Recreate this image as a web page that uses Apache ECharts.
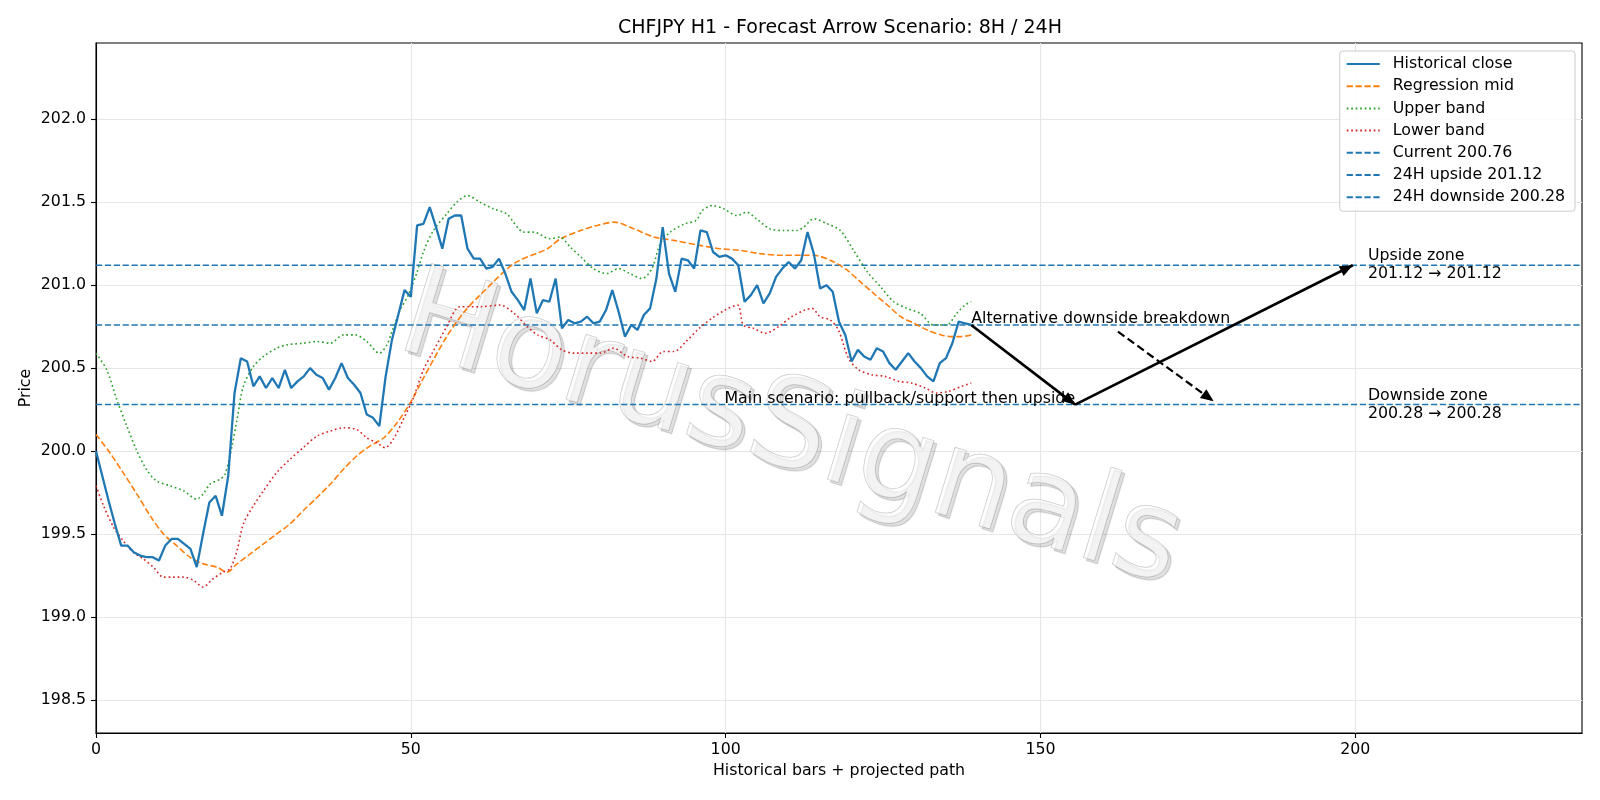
<!DOCTYPE html>
<html>
<head>
<meta charset="utf-8">
<script src="https://cdn.jsdelivr.net/npm/echarts@6/dist/echarts.min.js"></script>
<style>html,body{margin:0;padding:0;background:#fff}#c{width:1600px;height:800px}</style>
</head>
<body>
<div id="c"></div>
<script>
// ---- data ----
const X_MIN = 0, X_MAX = 236;
const Y_MIN = 198.3, Y_MAX = 202.46;
const xTicks = [0, 50, 100, 150, 200];
const yTicks = [198.5, 199.0, 199.5, 200.0, 200.5, 201.0, 201.5, 202.0];

const close = [
  200.00,199.85,199.70,199.56,199.43,199.43,199.39,199.37,199.36,199.36,
  199.34,199.43,199.47,199.47,199.44,199.41,199.30,199.50,199.69,199.73,
  199.61,199.85,200.35,200.56,200.54,200.39,200.45,200.38,200.44,200.38,
  200.49,200.38,200.42,200.45,200.50,200.46,200.44,200.37,200.44,200.53,
  200.44,200.40,200.35,200.22,200.20,200.15,200.45,200.67,200.82,200.97,
  200.93,201.36,201.37,201.47,201.35,201.22,201.40,201.42,201.42,201.22,
  201.16,201.16,201.10,201.11,201.16,201.07,200.96,200.91,200.85,201.04,
  200.83,200.91,200.90,201.04,200.74,200.79,200.77,200.78,200.81,200.77,
  200.78,200.85,200.97,200.84,200.69,200.76,200.73,200.82,200.86,201.04,
  201.35,201.07,200.96,201.16,201.15,201.10,201.33,201.32,201.20,201.17,
  201.18,201.16,201.12,200.90,200.94,201.00,200.89,200.95,201.05,201.10,
  201.14,201.10,201.15,201.32,201.19,200.98,201.00,200.96,200.78,200.70,
  200.54,200.61,200.57,200.55,200.62,200.60,200.53,200.49,200.54,200.59,
  200.54,200.50,200.45,200.42,200.53,200.56,200.65,200.78,200.77,200.76
];

const regMid = [
  [0,200.10],[2.2,199.99],[4.3,199.87],[6.5,199.74],[8.6,199.61],[10.7,199.50],[12.8,199.43],
  [14.9,199.36],[17,199.32],[19.2,199.30],[20.8,199.27],[22.4,199.32],[24.5,199.38],[26.6,199.44],
  [28.7,199.50],[30.8,199.56],[32.9,199.64],[35.1,199.72],[37.2,199.80],[39.3,199.89],[41.4,199.97],
  [43.5,200.03],[45.7,200.08],[47.8,200.17],[49.9,200.29],[52,200.44],[55.7,200.69],[58.5,200.84],
  [61,200.94],[66.4,201.13],[71.7,201.22],[73.8,201.28],[77,201.33],[79.6,201.36],[82.3,201.38],
  [85.4,201.34],[88.6,201.29],[91.8,201.27],[95.9,201.24],[99.1,201.22],[102.3,201.21],[105.5,201.19],
  [108.7,201.18],[111.9,201.18],[114,201.18],[117.2,201.14],[119.3,201.09],[121.4,201.02],[123.5,200.95],
  [125.7,200.88],[127.8,200.81],[129.9,200.77],[132,200.73],[134.2,200.70],[135.8,200.69],[137.4,200.69],
  [139,200.70]
];

const upperBand = [
  [0,200.59],[1.7,200.49],[3.3,200.31],[4.9,200.15],[6.5,200.00],[8,199.89],[9.6,199.82],[11.8,199.79],
  [13.9,199.76],[16,199.71],[17,199.74],[18.1,199.80],[19.7,199.83],[20.5,199.86],[21.6,200.03],
  [22.4,200.19],[23.4,200.39],[25,200.51],[26.6,200.57],[28.7,200.62],[30.3,200.64],[32.9,200.65],
  [35.1,200.66],[37.2,200.65],[39.3,200.70],[41.2,200.70],[43,200.66],[45,200.59],[46.2,200.64],
  [47,200.72],[48.3,200.85],[49.6,200.94],[51,201.08],[52,201.20],[53.6,201.33],[55.7,201.43],
  [57.3,201.50],[59,201.54],[61,201.50],[63.1,201.46],[65.2,201.43],[68,201.32],[69.5,201.32],
  [72.1,201.28],[73.7,201.29],[75.3,201.23],[77,201.17],[79,201.10],[81.1,201.07],[83,201.10],
  [84.8,201.07],[86.7,201.04],[88.3,201.10],[89.6,201.25],[91.2,201.32],[93.5,201.37],[95.3,201.39],
  [96.3,201.45],[97.9,201.48],[99.7,201.46],[101.8,201.42],[103.3,201.44],[104.9,201.40],[107,201.34],
  [109.2,201.33],[111.3,201.33],[112.4,201.35],[114,201.40],[116.1,201.37],[118.2,201.33],[120.3,201.21],
  [122.5,201.08],[124.6,200.99],[126.7,200.90],[128.8,200.86],[130.9,200.83],[133,200.76],[135.1,200.76],
  [136.7,200.83],[138,200.88],[139,200.90]
];

const lowerBand = [
  [0,199.79],[1.2,199.67],[2.8,199.54],[4.3,199.46],[5.9,199.39],[7.5,199.35],[9.1,199.30],[10.7,199.24],
  [12.3,199.24],[13.9,199.24],[15.5,199.22],[17,199.18],[18.6,199.23],[20.2,199.27],[21.3,199.29],
  [22.4,199.40],[23.4,199.56],[25,199.67],[26.6,199.76],[28.7,199.87],[30.8,199.95],[32.9,200.02],
  [35.1,200.09],[37.2,200.12],[39.3,200.14],[41.4,200.13],[43,200.08],[44.6,200.05],[45.9,200.02],
  [47.2,200.07],[48.8,200.19],[50.4,200.32],[52,200.49],[53.4,200.59],[55.7,200.75],[57.8,200.87],
  [61,200.87],[64.2,200.88],[66.4,200.83],[68.5,200.75],[70.1,200.70],[72.1,200.67],[74,200.61],
  [75.9,200.59],[78,200.59],[80.1,200.59],[82.2,200.62],[84.4,200.57],[86.5,200.56],[88.3,200.54],
  [90.1,200.60],[91.8,200.60],[93.7,200.66],[95.8,200.74],[97.8,200.80],[99.9,200.85],[101.9,200.88],
  [102.8,200.76],[104.4,200.74],[106.3,200.71],[108.4,200.75],[110.5,200.81],[112.6,200.85],[113.7,200.86],
  [115,200.81],[116.6,200.79],[117.9,200.73],[119.5,200.56],[121.1,200.49],[123.2,200.46],[125.3,200.45],
  [127.5,200.42],[129.5,200.41],[131.7,200.38],[133.5,200.35],[135.4,200.36],[137.5,200.39],[139,200.41]
];

const currentLevel = 200.76;
const upsideLevel = 201.12;
const downsideLevel = 200.28;

// projected arrows: [from, to]
const mainPath1 = [[139, 200.76], [155.5, 200.28]];
const mainPath2 = [[155.5, 200.28], [199.6, 201.12]];
const altPath = [[162.3, 200.72], [177.5, 200.30]];

const annotations = [
  { pos: [139, 200.76], text: 'Alternative downside breakdown', align: 'left', va: 'bottom', dy: 3 },
  { pos: [155.5, 200.28], text: 'Main scenario: pullback/support then upside', align: 'right', va: 'bottom', dy: 3 },
  { pos: [202, 201.12], text: 'Upside zone\n201.12 → 201.12', align: 'left', va: 'middle', dy: 0 },
  { pos: [202, 200.28], text: 'Downside zone\n200.28 → 200.28', align: 'left', va: 'middle', dy: 0 }
];

const titleText = 'CHFJPY H1 - Forecast Arrow Scenario: 8H / 24H';
const xName = 'Historical bars + projected path';
const yName = 'Price';

// ---- chart ----
const FONT = '"DejaVu Sans", sans-serif';
const FS = 15.8;
const C_BLUE = '#1f77b4', C_ORANGE = '#ff7f0e', C_GREEN = '#2ca02c', C_RED = '#d62728';
const DASH = [6.2, 2.7];
const DOT = [1.7, 2.8];
const arrowHead = 'path://M5,12L10,24L0,24Z M5,0L5,0.01';

const closeData = close.map((v, i) => [i, v]);
const hline = v => [[X_MIN, v], [X_MAX, v]];

const chart = echarts.init(document.getElementById('c'), null, { renderer: 'canvas' });

const option = {
  animation: false,
  backgroundColor: '#fff',
  textStyle: { fontFamily: FONT },
  title: {
    text: titleText,
    left: 835,
    textAlign: 'center',
    top: 14,
    textStyle: { fontFamily: FONT, fontSize: 19, fontWeight: 'normal', color: '#000' }
  },
  grid: {
    left: 96, right: 18, top: 43, bottom: 67,
    show: true, borderColor: '#000', borderWidth: 1.1, backgroundColor: 'transparent'
  },
  legend: {
    orient: 'vertical',
    right: 25,
    top: 51,
    padding: [5, 10, 6, 6],
    itemWidth: 33,
    itemHeight: 14,
    itemGap: 6.2,
    backgroundColor: 'rgba(255,255,255,0.85)',
    borderColor: '#cccccc',
    borderWidth: 1,
    borderRadius: 3,
    data: ['Historical close', 'Regression mid', 'Upper band', 'Lower band',
           'Current 200.76', '24H upside 201.12', '24H downside 200.28'],
    itemStyle: { color: 'rgba(0,0,0,0)', borderColor: 'rgba(0,0,0,0)', borderWidth: 0, opacity: 0 },
    textStyle: { fontFamily: FONT, fontSize: FS, lineHeight: 16, color: '#000', padding: [0, 0, 0, 8] }
  },
  xAxis: {
    type: 'value',
    min: X_MIN, max: X_MAX,
    name: xName,
    nameLocation: 'middle',
    nameGap: 29,
    nameTextStyle: { fontFamily: FONT, fontSize: FS, color: '#000' },
    axisLine: { show: true, lineStyle: { color: '#000', width: 1.1 } },
    axisTick: { show: true, inside: false, length: 5, lineStyle: { color: '#000', width: 1.1 }, customValues: xTicks },
    axisLabel: { customValues: xTicks, fontFamily: FONT, fontSize: FS, color: '#000', margin: 9, formatter: v => String(v) },
    splitLine: { show: true, lineStyle: { color: '#e6e6e6', width: 1.1 } }
  },
  yAxis: {
    type: 'value',
    min: Y_MIN, max: Y_MAX,
    name: yName,
    nameLocation: 'middle',
    nameGap: 62,
    nameMoveOverlap: false,
    nameTextStyle: { fontFamily: FONT, fontSize: FS, color: '#000' },
    axisLine: { show: true, lineStyle: { color: '#000', width: 1.1 } },
    axisTick: { show: true, inside: false, length: 5, lineStyle: { color: '#000', width: 1.1 }, customValues: yTicks },
    axisLabel: { customValues: yTicks, fontFamily: FONT, fontSize: FS, color: '#000', margin: 10, formatter: v => v.toFixed(1) },
    splitLine: { show: true, lineStyle: { color: '#e6e6e6', width: 1.1 } }
  },
  graphic: [{
    type: 'text',
    x: 790, y: 434,
    rotation: -17 * Math.PI / 180,
    z: 1,
    silent: true,
    style: {
      text: 'HorusSignals',
      font: '124px "DejaVu Sans"',
      fill: 'rgba(255,255,255,0.6)',
      stroke: '#c4c4c4',
      lineWidth: 1.0,
      align: 'center',
      verticalAlign: 'middle',
      shadowColor: 'rgba(0,0,0,0.2)',
      shadowOffsetX: 3,
      shadowOffsetY: 3,
      shadowBlur: 1,
      textShadowColor: 'rgba(0,0,0,0.2)',
      textShadowOffsetX: 3,
      textShadowOffsetY: 3,
      textShadowBlur: 1
    }
  }],
  series: [
    {
      name: 'Historical close', type: 'line', data: closeData, symbol: 'none', z: 6,
      lineStyle: { color: C_BLUE, width: 2.3 }, itemStyle: { color: C_BLUE }
    },
    {
      name: 'Regression mid', type: 'line', data: regMid, symbol: 'none', smooth: 0.3, z: 4,
      lineStyle: { color: C_ORANGE, width: 1.6, type: DASH }, itemStyle: { color: C_ORANGE }
    },
    {
      name: 'Upper band', type: 'line', data: upperBand, symbol: 'none', smooth: 0.3, z: 4,
      lineStyle: { color: C_GREEN, width: 1.6, type: DOT }, itemStyle: { color: C_GREEN }
    },
    {
      name: 'Lower band', type: 'line', data: lowerBand, symbol: 'none', smooth: 0.3, z: 4,
      lineStyle: { color: C_RED, width: 1.6, type: DOT }, itemStyle: { color: C_RED }
    },
    {
      name: 'Current 200.76', type: 'line', data: hline(currentLevel), symbol: 'none', z: 3,
      lineStyle: { color: C_BLUE, width: 1.5, type: DASH }, itemStyle: { color: C_BLUE }
    },
    {
      name: '24H upside 201.12', type: 'line', data: hline(upsideLevel), symbol: 'none', z: 3,
      lineStyle: { color: C_BLUE, width: 1.5, type: DASH }, itemStyle: { color: C_BLUE }
    },
    {
      name: '24H downside 200.28', type: 'line', data: hline(downsideLevel), symbol: 'none', z: 3,
      lineStyle: { color: C_BLUE, width: 1.5, type: DASH }, itemStyle: { color: C_BLUE }
    },
    {
      name: 'annotations', type: 'scatter', z: 8,
      symbol: 'circle', symbolSize: 0.01,
      itemStyle: { color: 'rgba(0,0,0,0)', opacity: 1 },
      silent: true,
      data: annotations.map(a => ({
        value: a.pos,
        label: {
          show: true, formatter: a.text, position: [0, 0], offset: [0, a.dy],
          align: a.align, verticalAlign: a.va,
          fontFamily: FONT, fontSize: FS, color: '#000', lineHeight: 18,
          textBorderWidth: 0, opacity: 1
        }
      })),
      markLine: {
        silent: true,
        symbol: ['none', arrowHead],
        symbolSize: [11, 26],
        label: { show: false },
        lineStyle: { color: '#000', width: 2.7, type: 'solid', opacity: 1 },
        itemStyle: { color: '#000', opacity: 1 },
        data: [
          [{ coord: mainPath1[0] }, { coord: mainPath1[1] }],
          [{ coord: mainPath2[0] }, { coord: mainPath2[1] }],
          [{ coord: altPath[0], lineStyle: { type: [8, 4], width: 2.2 } }, { coord: altPath[1] }]
        ]
      }
    }
  ]
};
chart.setOption(option);
</script>
</body>
</html>
